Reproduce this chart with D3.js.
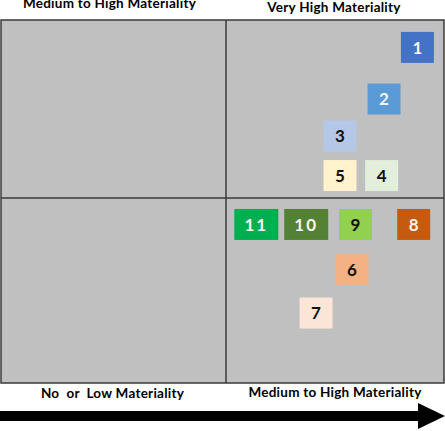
<!DOCTYPE html>
<html>
<head>
<meta charset="utf-8">
<script src="https://cdn.jsdelivr.net/npm/d3@7"></script>
<style>
  body { margin: 0; background: #fff; }
  text { font-family: Lato, "DejaVu Sans", sans-serif; font-weight: bold; }
</style>
</head>
<body>
<div id="chart"></div>
<script>
// issue labels, positions on the two materiality axes (0-2, 1 = quadrant split)
const labels = ['1', '2', '3', '4', '5', '6', '7', '8', '9', '10', '11'];
const xValues = [1.878, 1.725, 1.523, 1.714, 1.523, 1.578, 1.413, 1.861, 1.594, 1.368, 1.139];
const yValues = [1.846, 1.556, 1.348, 1.126, 1.126, 0.614, 0.378, 0.857, 0.857, 0.857, 0.857];
const boxColors = ['#4472c4', '#5b9bd5', '#b4c7e7', '#e2efda', '#fff2cc', '#f4b183',
  '#fbe5d6', '#c55a11', '#92d050', '#548235', '#00b050'];

// quadrant captions
const topLabels = ['Medium to High Materiality', 'Very High Materiality'];
const bottomLabels = ['No  or  Low Materiality', 'Medium to High Materiality'];

const width = 445, height = 431;

const svg = d3.select('#chart')
  .append('svg')
  .attr('width', width)
  .attr('height', height);

const x = d3.scaleLinear().domain([0, 1, 2]).range([1, 226, 444]);
const y = d3.scaleLinear().domain([0, 1, 2]).range([383, 198, 20]);

// grey quadrants
svg.append('rect')
  .attr('x', x(0)).attr('y', y(2))
  .attr('width', x(2) - x(0)).attr('height', y(0) - y(2))
  .attr('fill', '#c0c0c0')
  .attr('stroke', '#3a3a3a')
  .attr('stroke-width', 1.5);

svg.append('line')
  .attr('x1', x(1)).attr('x2', x(1))
  .attr('y1', y(2)).attr('y2', y(0))
  .attr('stroke', '#3a3a3a').attr('stroke-width', 1.5);

svg.append('line')
  .attr('x1', x(0)).attr('x2', x(2))
  .attr('y1', y(1)).attr('y2', y(1))
  .attr('stroke', '#3a3a3a').attr('stroke-width', 1.5);

// issue boxes
const items = labels.map((d, i) => ({ label: d, x: xValues[i], y: yValues[i], color: boxColors[i] }));

const box = svg.append('g')
  .selectAll('g')
  .data(items)
  .join('g')
  .attr('transform', d => `translate(${x(d.x)}, ${y(d.y)})`);

box.append('rect')
  .attr('x', d => d.label.length > 1 ? -22 : -16.5)
  .attr('y', -15.5)
  .attr('width', d => d.label.length > 1 ? 44 : 33)
  .attr('height', 31)
  .attr('fill', d => d.color);

box.append('text')
  .attr('text-anchor', 'middle')
  .attr('dy', '0.36em')
  .attr('font-size', 17)
  .attr('letter-spacing', d => d.label.length > 1 ? 2 : 0)
  .attr('fill', d => d3.lab(d.color).l < 70 ? '#f4f4f4' : '#111')
  .text(d => d.label);

// captions
const caption = (txt, cx, cy) => svg.append('text')
  .attr('x', cx).attr('y', cy)
  .attr('text-anchor', 'middle')
  .attr('font-size', 13.5)
  .attr('letter-spacing', 0.25)
  .style('white-space', 'pre')
  .text(txt);

caption(topLabels[0], x(0.5) - 4, 8);
caption(topLabels[1], x(1.5) - 1, 12);
caption(bottomLabels[0], x(0.5) - 1, 398);
caption(bottomLabels[1], x(1.5), 397);

// arrow
svg.append('path')
  .attr('d', 'M0,411 L418,411 L418,403 L445,416 L418,429 L418,421 L0,421 Z')
  .attr('fill', '#000');
</script>
</body>
</html>
